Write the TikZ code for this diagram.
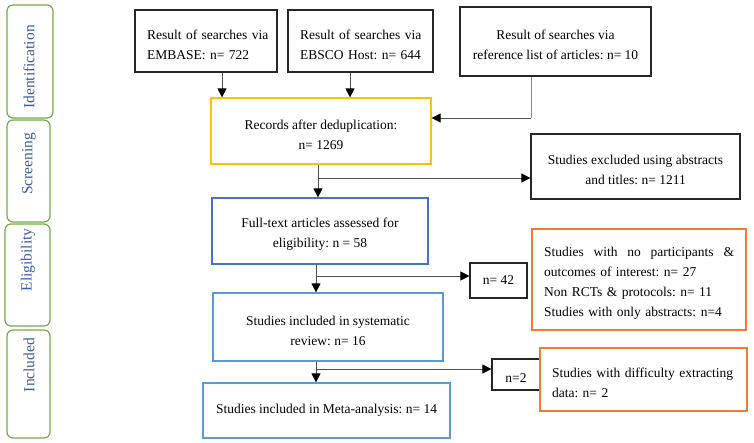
\documentclass[tikz,border=0pt]{standalone}
\usepackage{fontspec}
\setmainfont{Liberation Serif}
\usetikzlibrary{arrows.meta}
\frenchspacing
\definecolor{cgreen}{HTML}{70AD47}
\definecolor{cyellow}{HTML}{FFC000}
\definecolor{cblue}{HTML}{4472C4}
\definecolor{clblue}{HTML}{5B9BD5}
\definecolor{corange}{HTML}{ED7D31}
\definecolor{clabel}{HTML}{3B5BA5}
\definecolor{cline}{HTML}{505050}
\newcommand\vpad{\rule{0pt}{16.5pt}}
\tikzset{
  box/.style={draw, line width=1.2pt, inner sep=0pt, font=\fontsize{13.5}{20}\selectfont},
  blackbox/.style={box, draw=black!85},
  sidebox/.style={draw=cgreen, line width=1.2pt, rounded corners=6pt, inner sep=0pt},
  sidelabel/.style={rotate=90, text=clabel, font=\fontsize{15.5}{17}\selectfont, inner sep=0pt},
  arr/.style={draw=cline, line width=0.8pt, -{Triangle[length=9pt,width=9pt,color=black]}},
}
\begin{document}
\begin{tikzpicture}[x=1pt,y=-1pt]
\useasboundingbox (0,0) rectangle (754,443);
% side boxes
\node[sidebox, minimum width=46pt, minimum height=113pt] (sid) at (30,61.5) {};
\node[sidebox, minimum width=43pt, minimum height=102pt] (sscr) at (28.5,171) {};
\node[sidebox, minimum width=45pt, minimum height=102pt] (selig) at (27.5,275) {};
\node[sidebox, minimum width=43pt, minimum height=108pt] (sinc) at (28.5,384) {};
\node[sidelabel] (lid) at (29,67) {Identification};
\node[sidelabel] (lscr) at (29,164) {Screening};
\node[sidelabel] (lelig) at (28,260) {Eligibility};
\node[sidelabel] (linc) at (29,365) {Included};
% boxes
\node[blackbox, minimum width=142pt, minimum height=62pt, text width=118pt, align=left] (emb) at (206,41)
  {\vpad\mbox{Result of searches via}\\\mbox{EMBASE: n= 722}};
\node[blackbox, minimum width=145pt, minimum height=62pt, text width=121pt, align=left] (ebs) at (360.5,41)
  {\vpad\mbox{Result of searches via}\\\mbox{EBSCO Host: n= 644}};
\node[blackbox, minimum width=191pt, minimum height=69pt, align=center] (refl) at (555.5,41.5)
  {\vpad Result of searches via\\reference list of articles: n= 10};
\node[box, draw=cyellow, minimum width=220pt, minimum height=66pt, align=center] (rec) at (321,131)
  {\vpad Records after deduplication:\\n= 1269};
\node[blackbox, minimum width=209pt, minimum height=65pt, align=center] (excl) at (635.5,166.5)
  {\vpad Studies excluded using abstracts\\and titles: n= 1211};
\node[box, draw=cblue, minimum width=216pt, minimum height=66pt, align=center] (ft) at (320,231)
  {\vpad Full-text articles assessed for\\eligibility: n = 58};
\node[blackbox, minimum width=57pt, minimum height=35pt] (n42) at (498.5,280.5) {n= 42};
\node[box, draw=corange, minimum width=214pt, minimum height=101pt, text width=190pt, align=left] (ob1) at (639,279.5)
  {\vpad\hbox to 190pt{Studies\hfill with\hfill no\hfill participants\hfill \&}\\outcomes of interest: n= 27\\Non RCTs \& protocols: n= 11\\Studies with only abstracts: n=4};
\node[box, draw=clblue, minimum width=230pt, minimum height=68pt, align=center] (sr) at (328,327)
  {\vpad Studies included in systematic\\review: n= 16};
\node[blackbox, minimum width=48pt, minimum height=31pt] (n2) at (516,374.5) {\vpad n=2};
\node[box, draw=corange, minimum width=207pt, minimum height=63pt, text width=183pt, align=left] (ob2) at (643.5,379.5)
  {\vpad\mbox{Studies with difficulty extracting}\\data: n= 2};
\node[box, draw=clblue, minimum width=247pt, minimum height=55pt, align=center] (meta) at (326.5,410.5)
  {Studies included in Meta-analysis: n= 14};
% connector coordinates
\coordinate (xa) at (222,0);
\coordinate (xb) at (350,0);
\coordinate (rj) at (531,118);
\coordinate (xm) at (318,0);
\coordinate (xn) at (316,0);
\coordinate (j1) at (318,178);
\coordinate (j2) at (316,276);
\coordinate (j3) at (316,369);
% connectors
\draw[arr] (emb.south -| xa) -- (rec.north -| xa);
\draw[arr] (ebs.south -| xb) -- (rec.north -| xb);
\draw[draw=cblue!80, line width=0.8pt] (refl.south -| rj) -- (rj);
\draw[arr] (rj) -- (rec.east |- rj);
\draw[arr] (rec.south -| xm) -- (ft.north -| xm);
\draw[arr] (j1) -- (excl.west |- j1);
\draw[arr] (ft.south -| xn) -- (sr.north -| xn);
\draw[arr] (j2) -- (n42.west |- j2);
\draw[arr] (sr.south -| xn) -- (meta.north -| xn);
\draw[arr] (j3) -- (n2.west |- j3);
\end{tikzpicture}
\end{document}
